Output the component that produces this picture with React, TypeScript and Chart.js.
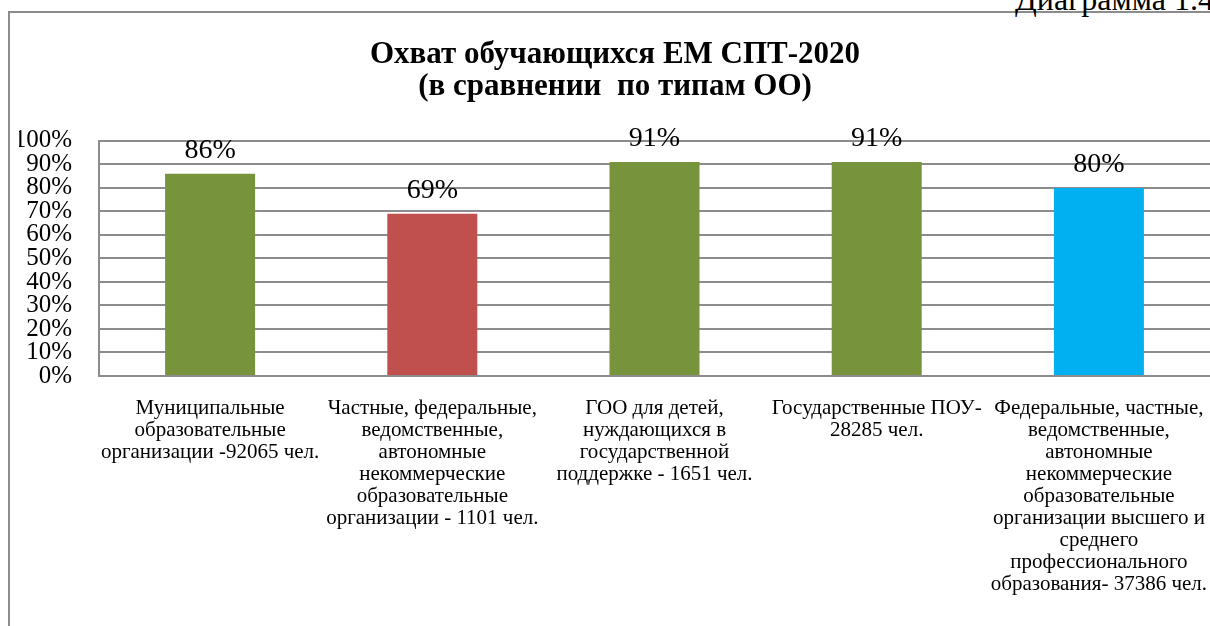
import React, { useEffect, useRef } from "react";
import { Chart, registerables } from "chart.js";

Chart.register(...registerables);

const titleLines = ["Охват обучающихся ЕМ СПТ-2020", "(в сравнении  по типам ОО)"];

const categories: string[][] = [
  ["Муниципальные", "образовательные", "организации -92065 чел."],
  ["Частные, федеральные,", "ведомственные,", "автономные", "некоммерческие", "образовательные", "организации - 1101 чел."],
  ["ГОО для детей,", "нуждающихся в", "государственной", "поддержке - 1651 чел."],
  ["Государственные ПОУ-", "28285 чел."],
  ["Федеральные, частные,", "ведомственные,", "автономные", "некоммерческие", "образовательные", "организации высшего и", "среднего", "профессионального", "образования- 37386 чел."],
];

const coverage = [86, 69, 91, 91, 80];

const barColors = ["#77933C", "#C0504D", "#77933C", "#77933C", "#00B0F0"];

const yTicks = [0, 10, 20, 30, 40, 50, 60, 70, 80, 90, 100];

const FONT = "'Liberation Serif', 'Times New Roman', serif";

const valueLabels = {
  id: "valueLabels",
  afterDatasetsDraw(chart: any) {
    const ctx = chart.ctx;
    const meta = chart.getDatasetMeta(0);
    ctx.save();
    ctx.font = `28px ${FONT}`;
    ctx.fillStyle = "#000";
    ctx.textAlign = "center";
    ctx.textBaseline = "alphabetic";
    meta.data.forEach((bar: any, i: number) => {
      ctx.fillText(`${coverage[i]}%`, bar.x, bar.y - 16);
    });
    ctx.restore();
  },
};

export default function App() {
  const ref = useRef<HTMLCanvasElement | null>(null);

  useEffect(() => {
    if (!ref.current) return;
    const chart = new Chart(ref.current, {
      type: "bar",
      data: {
        labels: categories,
        datasets: [
          {
            data: coverage,
            backgroundColor: barColors,
            borderWidth: 0,
            categoryPercentage: 1,
            barPercentage: 0.405,
          },
        ],
      },
      options: {
        responsive: false,
        animation: false,
        layout: { padding: { left: 19, right: 19, top: 0, bottom: 0 } },
        plugins: {
          legend: { display: false },
          tooltip: { enabled: false },
          title: {
            display: true,
            text: titleLines,
            color: "#000",
            font: { family: FONT, size: 31, weight: "bold", lineHeight: 1.03 },
            padding: { top: 39, bottom: 38 },
          },
        },
        scales: {
          x: {
            grid: { display: false, drawTicks: false },
            border: { display: true, color: "#8c8c8c", width: 2 },
            ticks: {
              color: "#000",
              font: { family: FONT, size: 21, lineHeight: 1.0476 },
              padding: 21,
              autoSkip: false,
              maxRotation: 0,
              minRotation: 0,
            },
            afterFit(scale: any) {
              scale.height = 250;
            },
          },
          y: {
            min: 0,
            max: 100,
            afterBuildTicks(scale: any) {
              scale.ticks = yTicks.map((v) => ({ value: v }));
            },
            grid: { color: "#8c8c8c", lineWidth: 2, drawTicks: false },
            border: { display: true, color: "#8c8c8c", width: 2 },
            ticks: {
              color: "#000",
              autoSkip: false,
              font: { family: FONT, size: 25, lineHeight: 1 },
              padding: 27,
              callback: (v: any) => `${v}%`,
            },
            afterFit(scale: any) {
              scale.width = 80;
            },
          },
        },
      },
      plugins: [valueLabels],
    });
    return () => chart.destroy();
  }, []);

  return (
    <div
      style={{
        position: "fixed",
        left: 0,
        top: 0,
        width: 1210,
        height: 626,
        overflow: "hidden",
        background: "#fff",
      }}
    >
      <div
        style={{
          position: "absolute",
          left: 8,
          top: 11,
          width: 1300,
          height: 700,
          borderLeft: "2px solid #8c8c8c",
          borderTop: "2px solid #8c8c8c",
        }}
      />
      <div
        style={{
          position: "absolute",
          left: 1015,
          top: -17,
          fontFamily: FONT,
          fontSize: 32,
          lineHeight: "32px",
          whiteSpace: "nowrap",
          color: "#000",
        }}
      >
        Диаграмма 1.4
      </div>
      <canvas
        ref={ref}
        width={1230}
        height={626}
        style={{ position: "absolute", left: 0, top: 0, width: 1230, height: 626 }}
      />
    </div>
  );
}
